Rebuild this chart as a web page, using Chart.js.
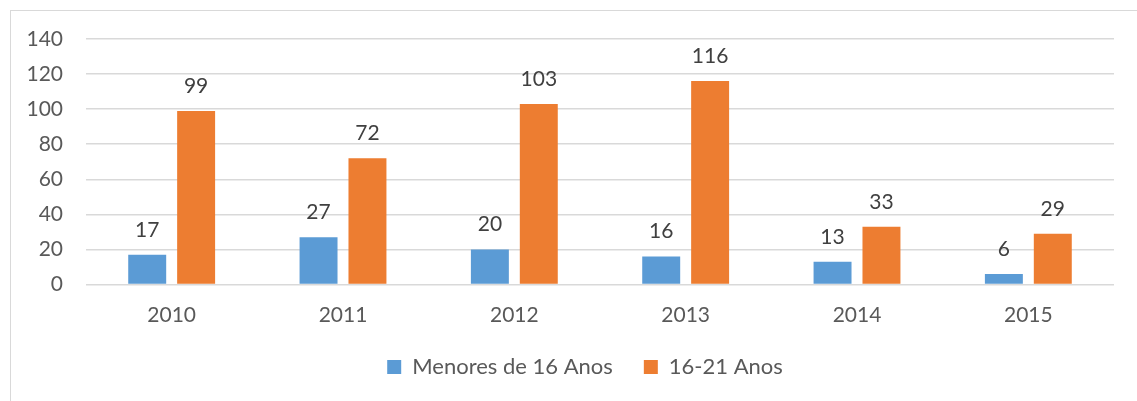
<!DOCTYPE html>
<html>
<head>
<meta charset="utf-8">
<script src="https://cdn.jsdelivr.net/npm/chart.js@4/dist/chart.umd.min.js"></script>
<style>
  html, body { margin: 0; padding: 0; background: #fff; overflow: hidden; }
  #wrap { position: relative; width: 1137px; height: 401px; }
  #frame { position: absolute; left: 10px; top: 10px; width: 1200px; height: 500px;
           border-top: 1.5px solid #d9d9d9; border-left: 1.5px solid #d9d9d9; }
  #chart { position: absolute; left: 0; top: 0; }
</style>
</head>
<body>
<div id="wrap">
  <div id="frame"></div>
  <canvas id="chart" width="1137" height="401"></canvas>
</div>
<script>
var years = ["2010", "2011", "2012", "2013", "2014", "2015"];
var menores16 = [17, 27, 20, 16, 13, 6];
var anos16a21 = [99, 72, 103, 116, 33, 29];
var yTicks = [0, 20, 40, 60, 80, 100, 120, 140];

// draws the value above each bar
var barLabels = {
    id : "barLabels",
    afterDatasetsDraw : function(chart){
        var ctx = chart.ctx;
        ctx.save();
        ctx.font = "21px Lato";
        ctx.fillStyle = "#404040";
        ctx.textAlign = "center";
        ctx.textBaseline = "alphabetic";
        chart.data.datasets.forEach(function(ds, i){
            chart.getDatasetMeta(i).data.forEach(function(bar, j){
                ctx.fillText(ds.data[j], bar.x, bar.y - 18);
            });
        });
        ctx.restore();
    }
};

// legend in the original sits a bit right of centre
var legendShift = {
    id : "legendShift",
    afterLayout : function(chart){
        if (chart.legend) chart.legend.left += 56;
    }
};

var ctx = document.getElementById("chart");

var graph_data = {
    labels : years,
    datasets : [
        {
            label : "Menores de 16 Anos",
            data : menores16,
            backgroundColor : "#5B9BD5",
            categoryPercentage : 0.571,
            barPercentage : 0.776
        },
        {
            label : "16-21 Anos",
            data : anos16a21,
            backgroundColor : "#ED7D31",
            categoryPercentage : 0.571,
            barPercentage : 0.776
        }
    ]
};

var options = {
    responsive : false,
    animation : false,
    layout : {
        padding : { left : 0, right : 23, top : 39, bottom : 13 }
    },
    plugins : {
        legend : {
            display : true,
            position : "bottom",
            labels : {
                font : { family : "Lato", size : 22 },
                color : "#595959",
                boxWidth : 14,
                boxHeight : 14,
                padding : 31
            }
        },
        tooltip : { enabled : false }
    },
    scales : {
        x : {
            grid : { display : false, drawTicks : false },
            border : { display : false },
            ticks : {
                font : { family : "Lato", size : 21 },
                color : "#595959",
                padding : 18
            },
            afterFit : function(axis){ axis.height = 40.5; }
        },
        y : {
            min : 0,
            max : 140,
            afterBuildTicks : function(axis){
                axis.ticks = yTicks.map(function(v){ return { value : v }; });
            },
            grid : { color : "#d9d9d9", lineWidth : 1.5, drawTicks : false },
            border : { display : false },
            ticks : {
                font : { family : "Lato", size : 21 },
                color : "#595959",
                padding : 23
            },
            afterFit : function(axis){ axis.width = 86; }
        }
    }
};

var chart = new Chart(ctx, {
    type : "bar",
    data : graph_data,
    options : options,
    plugins : [barLabels, legendShift]
});
</script>
</body>
</html>
